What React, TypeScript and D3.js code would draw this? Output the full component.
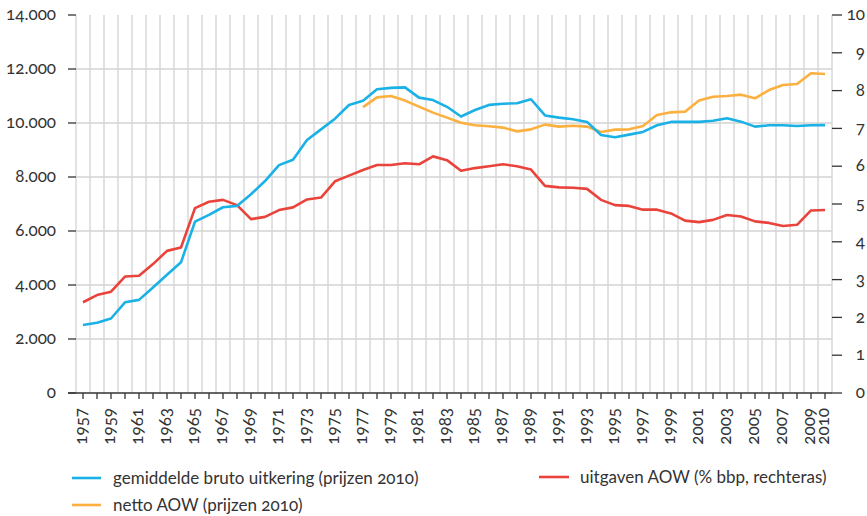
import React from "react";
import * as d3 from "d3";

const years = [1957,1958,1959,1960,1961,1962,1963,1964,1965,1966,1967,1968,1969,1970,1971,1972,1973,1974,1975,1976,1977,1978,1979,1980,1981,1982,1983,1984,1985,1986,1987,1988,1989,1990,1991,1992,1993,1994,1995,1996,1997,1998,1999,2000,2001,2002,2003,2004,2005,2006,2007,2008,2009,2010];
const yearLabels = ["1957","1959","1961","1963","1965","1967","1969","1971","1973","1975","1977","1979","1981","1983","1985","1987","1989","1991","1993","1995","1997","1999","2001","2003","2005","2007","2009","2010"];

const brutoUitkering = [2520,2600,2760,3360,3450,3910,4380,4840,6350,6600,6880,6930,7360,7850,8440,8640,9370,9765,10160,10667,10827,11250,11300,11320,10940,10850,10600,10240,10480,10670,10715,10730,10880,10280,10200,10136,10040,9555,9470,9570,9670,9915,10040,10040,10040,10085,10175,10050,9865,9915,9915,9890,9915,9920];
const nettoAOW = [null,null,null,null,null,null,null,null,null,null,null,null,null,null,null,null,null,null,null,null,10590,10950,11000,10830,10605,10385,10200,10010,9915,9880,9830,9690,9765,9940,9865,9900,9865,9665,9755,9765,9890,10295,10395,10420,10830,10975,11000,11050,10915,11220,11405,11445,11840,11815];
const uitgavenAOW = [2.40,2.59,2.68,3.08,3.10,3.41,3.76,3.85,4.89,5.06,5.11,4.97,4.60,4.66,4.84,4.91,5.12,5.17,5.60,5.75,5.90,6.03,6.03,6.08,6.05,6.26,6.16,5.88,5.95,6.00,6.05,6.00,5.91,5.48,5.44,5.43,5.40,5.11,4.97,4.95,4.85,4.85,4.75,4.56,4.52,4.58,4.71,4.67,4.54,4.50,4.42,4.45,4.83,4.84];

const leftTicks = [0,2000,4000,6000,8000,10000,12000,14000];
const leftTickLabels = ["0","2.000","4.000","6.000","8.000","10.000","12.000","14.000"];
const rightTicks = [0,1,2,3,4,5,6,7,8,9,10];

const seriesNames = ["gemiddelde bruto uitkering (prijzen 2010)","netto AOW (prijzen 2010)","uitgaven AOW (% bbp, rechteras)"];

const BLUE = "#19b1e6";
const ORANGE = "#fbb03f";
const RED = "#e9433c";
const GRID = "#d3d3d3";
const DARK = "#333333";
const FONT = "Lato, 'Open Sans', sans-serif";
const FS = 17;

export default function App() {
  const W = 867, H = 516;
  const left = 76, right = 832, top = 15, bottom = 393;
  const x = d3.scalePoint<number>().domain(years).range([left, right]).padding(0.5);
  const step = x.step();
  const yL = d3.scaleLinear().domain([0, 14000]).range([bottom, top]);
  const yR = d3.scaleLinear().domain([0, 10]).range([bottom, top]);

  const lineL = d3.line<[number, number | null]>()
    .defined(d => d[1] != null)
    .x(d => x(d[0]) as number)
    .y(d => yL(d[1] as number));
  const lineR = d3.line<[number, number]>()
    .x(d => x(d[0]) as number)
    .y(d => yR(d[1]));

  const blueD = lineL(years.map((y, i) => [y, brutoUitkering[i]]));
  const orangeD = lineL(years.map((y, i) => [y, nettoAOW[i]]));
  const redD = lineR(years.map((y, i) => [y, uitgavenAOW[i]]));

  const boundaries = d3.range(years.length + 1).map(k => left + k * step);

  const textStyle: React.CSSProperties = { fontFamily: FONT, fontVariantNumeric: "oldstyle-nums" };

  return (
    <svg width={W} height={H} style={{ position: "absolute", left: 0, top: 0, background: "#fff" }}>
      <g>
        {boundaries.map((bx, i) => (
          <line key={"vg" + i} x1={bx} x2={bx} y1={top} y2={bottom} stroke={GRID} strokeWidth={1.3} />
        ))}
        {leftTicks.filter(t => t > 0 && t < 14000).map(t => (
          <line key={"hg" + t} x1={left} x2={right} y1={yL(t)} y2={yL(t)} stroke={GRID} strokeWidth={1.3} />
        ))}
      </g>
      {/* left axis */}
      <g>
        {leftTicks.map((t, i) => (
          <g key={"lt" + t}>
            <line x1={68} x2={left} y1={yL(t)} y2={yL(t)} stroke={DARK} strokeWidth={1.3} />
            <text x={56} y={yL(t)} dy="0.3em" textAnchor="end" fontSize={FS} fill={DARK} style={textStyle}>{leftTickLabels[i]}</text>
          </g>
        ))}
      </g>
      {/* right axis */}
      <g>
        {rightTicks.map(t => (
          <g key={"rt" + t}>
            <line x1={right} x2={842} y1={yR(t)} y2={yR(t)} stroke={DARK} strokeWidth={1.3} />
            <text x={865} y={yR(t)} dy="0.3em" textAnchor="end" fontSize={FS} fill={DARK} style={textStyle}>{t}</text>
          </g>
        ))}
      </g>
      {/* bottom axis */}
      <g>
        <line x1={68} x2={right} y1={bottom} y2={bottom} stroke={DARK} strokeWidth={1.3} />
        {years.map(yv => (
          <line key={"xt" + yv} x1={x(yv)} x2={x(yv)} y1={bottom} y2={bottom + 6} stroke={DARK} strokeWidth={1.3} />
        ))}
        {yearLabels.map(lbl => {
          const cx = (x(+lbl) as number) - 1.5;
          return (
            <text key={"xl" + lbl} transform={`translate(${cx},${408}) rotate(-90)`} dy="0.35em" textAnchor="end" fontSize={FS} fill={DARK} style={textStyle}>{lbl}</text>
          );
        })}
      </g>
      {/* series */}
      <path d={redD || ""} fill="none" stroke={RED} strokeWidth={2.6} strokeLinejoin="round" />
      <path d={orangeD || ""} fill="none" stroke={ORANGE} strokeWidth={2.6} strokeLinejoin="round" />
      <path d={blueD || ""} fill="none" stroke={BLUE} strokeWidth={2.6} strokeLinejoin="round" />
      {/* legend */}
      <g>
        <line x1={72} x2={101} y1={478} y2={478} stroke={BLUE} strokeWidth={2.6} />
        <text x={113} y={478} dy="0.35em" fontSize={FS} fill={DARK} style={textStyle}>{seriesNames[0]}</text>
        <line x1={72} x2={101} y1={505} y2={505} stroke={ORANGE} strokeWidth={2.6} />
        <text x={113} y={505} dy="0.35em" fontSize={FS} fill={DARK} style={textStyle}>{seriesNames[1]}</text>
        <line x1={539} x2={569} y1={477} y2={477} stroke={RED} strokeWidth={2.6} />
        <text x={580} y={477} dy="0.35em" fontSize={FS} fill={DARK} style={textStyle}>{seriesNames[2]}</text>
      </g>
    </svg>
  );
}
